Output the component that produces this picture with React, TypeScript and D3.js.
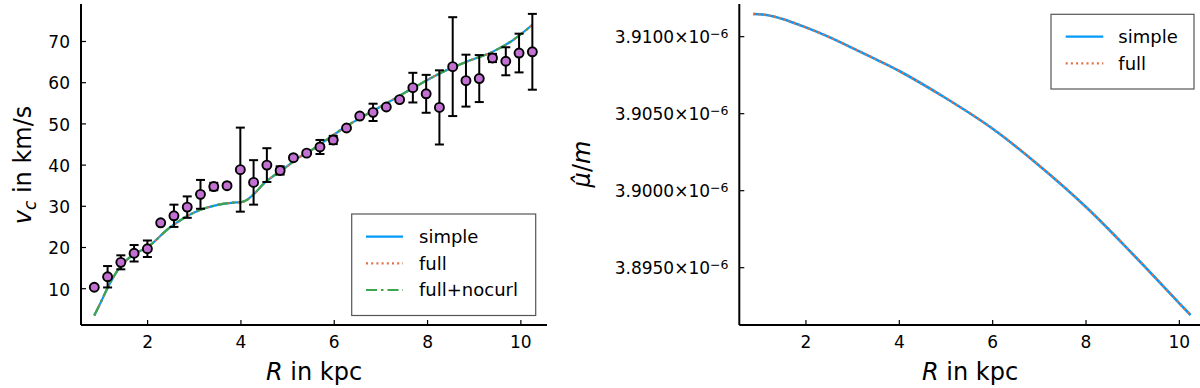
import React from 'react';
import * as d3 from 'd3';

// observed rotation curve
const radii = [0.857, 1.142, 1.426, 1.71, 1.995, 2.28, 2.564, 2.849, 3.133, 3.418, 3.702, 3.987, 4.271, 4.556, 4.84, 5.125, 5.409, 5.694, 5.978, 6.263, 6.547, 6.832, 7.116, 7.401, 7.685, 7.97, 8.254, 8.539, 8.823, 9.108, 9.392, 9.677, 9.961, 10.246];
const vObs = [10.35, 12.9, 16.4, 18.6, 19.7, 26.0, 27.7, 29.8, 32.9, 34.8, 35.0, 38.9, 35.8, 40.0, 38.7, 41.8, 42.9, 44.4, 46.1, 49.0, 51.9, 52.8, 54.1, 55.9, 58.8, 57.3, 54.0, 63.9, 60.5, 61.0, 66.0, 65.2, 67.2, 67.5];
const vErr = [0.3, 2.6, 1.7, 2.0, 2.0, 0.3, 2.7, 2.6, 3.5, 0.9, 0.3, 10.2, 5.4, 4.1, 1.0, 0.3, 0.3, 1.7, 1.0, 0.3, 0.3, 2.1, 0.3, 0.3, 3.6, 4.6, 9.0, 12.0, 6.3, 5.7, 1.0, 3.4, 4.7, 9.2];

// model curve (simple / full / full+nocurl overlap)
const curveR = [0.857, 1.0, 1.12, 1.41, 1.7, 2.0, 2.44, 2.77, 3.12, 3.48, 3.84, 4.01, 4.12, 4.3, 4.48, 4.69, 4.98, 5.19, 5.41, 6.27, 7.12, 7.69, 8.27, 8.84, 9.41, 9.84, 10.24];
const curveV = [3.5, 6.8, 9.7, 15.3, 18.3, 20.1, 24.5, 27.1, 29.1, 30.3, 30.9, 31.0, 31.5, 33.2, 35.4, 37.3, 39.6, 41.5, 42.9, 49.5, 55.0, 58.7, 62.3, 65.1, 67.6, 70.4, 74.0];

// mu-hat / m
const muR = [0.87, 1.15, 1.5, 2.0, 2.5, 3.0, 3.5, 4.0, 5.0, 6.0, 7.0, 8.0, 9.0, 10.0, 10.24];
const muVal = [3.91147e-6, 3.91141e-6, 3.91115e-6, 3.9106e-6, 3.90997e-6, 3.90926e-6, 3.90853e-6, 3.90777e-6, 3.906e-6, 3.90402e-6, 3.90162e-6, 3.89894e-6, 3.89589e-6, 3.89269e-6, 3.89193e-6];

const xTicks = [2, 4, 6, 8, 10];
const vTicks = [10, 20, 30, 40, 50, 60, 70];
const muTicks = [3.895e-6, 3.9e-6, 3.905e-6, 3.91e-6];
const muTickLabels = ['3.8950', '3.9000', '3.9050', '3.9100'];

const BLUE = '#009AFA';
const ORANGE = '#E36F47';
const GREEN = '#3EA44E';
const PURPLE = '#C271D2';
const FONT = 'DejaVu Sans, sans-serif';
const INK = '#000';

const top = 4;
const bottom = 325;

const styles = {
  simple: { stroke: BLUE, dash: undefined },
  full: { stroke: ORANGE, dash: '2,3.2' },
  nocurl: { stroke: GREEN, dash: '11,4,2.5,4' },
};

function Legend({ x, y, w, h, items, lineX0, lineX1, textX, rowY }) {
  return (
    <g>
      <rect x={x} y={y} width={w} height={h} fill="#fff" stroke="#555" strokeWidth={1.2} />
      {items.map((it, i) => (
        <g key={it.label}>
          <line x1={lineX0} x2={lineX1} y1={rowY[i]} y2={rowY[i]} stroke={it.stroke} strokeWidth={2.2} strokeDasharray={it.dash} />
          <text x={textX} y={rowY[i]} dy="0.36em" fontSize={18} fontFamily={FONT} fill={INK}>{it.label}</text>
        </g>
      ))}
    </g>
  );
}

function LeftPanel() {
  const x = d3.scaleLinear().domain([0.572, 10.56]).range([81, 547]);
  const y = d3.scaleLinear().domain([1.19, 79.1]).range([bottom, top]);
  const line = d3.line<number>().x((d, i) => x(curveR[i])).y((d) => y(d)).curve(d3.curveMonotoneX);
  const path = line(curveV);

  return (
    <g>
      <path d={path} fill="none" stroke={BLUE} strokeWidth={2.2} />
      <path d={path} fill="none" stroke={ORANGE} strokeWidth={2.2} strokeDasharray={styles.full.dash} />
      <path d={path} fill="none" stroke={GREEN} strokeWidth={2.2} strokeDasharray={styles.nocurl.dash} />

      {radii.map((r, i) => {
        const cx = x(r);
        const y0 = y(vObs[i] - vErr[i]);
        const y1 = y(vObs[i] + vErr[i]);
        return (
          <g key={'e' + i} stroke="#000" strokeWidth={2}>
            <line x1={cx} x2={cx} y1={y0} y2={y1} />
            <line x1={cx - 4.5} x2={cx + 4.5} y1={y0} y2={y0} />
            <line x1={cx - 4.5} x2={cx + 4.5} y1={y1} y2={y1} />
          </g>
        );
      })}
      {radii.map((r, i) => (
        <circle key={'m' + i} cx={x(r)} cy={y(vObs[i])} r={4.5} fill={PURPLE} stroke="#000" strokeWidth={1.9} />
      ))}

      {/* axes */}
      <line x1={81} x2={547} y1={bottom} y2={bottom} stroke="#000" strokeWidth={2} />
      <line x1={81} x2={81} y1={top} y2={bottom} stroke="#000" strokeWidth={2} />
      {xTicks.map((t) => (
        <g key={t}>
          <line x1={x(t)} x2={x(t)} y1={bottom} y2={bottom - 5} stroke="#000" strokeWidth={1.2} />
          <text x={x(t)} y={bottom + 23} textAnchor="middle" fontSize={17} fontFamily={FONT} fill={INK}>{t}</text>
        </g>
      ))}
      {vTicks.map((t) => (
        <g key={t}>
          <line x1={81} x2={86} y1={y(t)} y2={y(t)} stroke="#000" strokeWidth={1.2} />
          <text x={70} y={y(t)} dy="0.4em" textAnchor="end" fontSize={17} fontFamily={FONT} fill={INK}>{t}</text>
        </g>
      ))}
      <text x={314} y={380} textAnchor="middle" fontSize={24} fontFamily={FONT} fill={INK}>
        <tspan fontStyle="italic">R</tspan> in kpc
      </text>
      <text transform="translate(31,165) rotate(-90)" textAnchor="middle" fontSize={24} fontFamily={FONT} fill={INK}>
        <tspan fontStyle="italic">v</tspan>
        <tspan fontStyle="italic" fontSize={17} dy={5}>c</tspan>
        <tspan dy={-5}> in km/s</tspan>
      </text>

      <Legend
        x={351.7} y={214} w={184} h={101.5}
        items={[
          { label: 'simple', ...styles.simple },
          { label: 'full', ...styles.full },
          { label: 'full+nocurl', ...styles.nocurl },
        ]}
        lineX0={366} lineX1={403} textX={419} rowY={[236.7, 263.3, 290]}
      />
    </g>
  );
}

function RightPanel() {
  const x = d3.scaleLinear().domain([0.572, 10.56]).range([739.3, 1205.5]);
  const y = d3.scaleLinear().domain([3.89128e-6, 3.91212e-6]).range([bottom, top]);
  const line = d3.line<number>().x((d, i) => x(muR[i])).y((d) => y(d)).curve(d3.curveCatmullRom);
  const path = line(muVal);

  return (
    <g>
      <path d={path} fill="none" stroke={BLUE} strokeWidth={2.6} />
      <path d={path} fill="none" stroke={ORANGE} strokeWidth={2.4} strokeDasharray={styles.full.dash} />

      <line x1={739.3} x2={1206} y1={bottom} y2={bottom} stroke="#000" strokeWidth={2} />
      <line x1={739.3} x2={739.3} y1={top} y2={bottom} stroke="#000" strokeWidth={2} />
      {xTicks.map((t) => (
        <g key={t}>
          <line x1={x(t)} x2={x(t)} y1={bottom} y2={bottom - 5} stroke="#000" strokeWidth={1.2} />
          <text x={x(t)} y={bottom + 23} textAnchor="middle" fontSize={17} fontFamily={FONT} fill={INK}>{t}</text>
        </g>
      ))}
      {muTicks.map((t, i) => (
        <g key={t}>
          <line x1={739.3} x2={744.3} y1={y(t)} y2={y(t)} stroke="#000" strokeWidth={1.2} />
          <text x={728.5} y={y(t)} dy="0.36em" textAnchor="end" fontSize={17} fontFamily={FONT} fill={INK}>
            {muTickLabels[i]}×10
            <tspan fontSize={12.5} dy={-5}>−6</tspan>
          </text>
        </g>
      ))}
      <text x={970} y={380} textAnchor="middle" fontSize={24} fontFamily={FONT} fill={INK}>
        <tspan fontStyle="italic">R</tspan> in kpc
      </text>
      <text transform="translate(590,164) rotate(-90)" textAnchor="middle" fontSize={24} fontFamily={FONT} fill={INK}>
        <tspan fontStyle="italic">μ̂</tspan>/<tspan fontStyle="italic">m</tspan>
      </text>

      <Legend
        x={1051} y={14.3} w={143} h={74.7}
        items={[
          { label: 'simple', ...styles.simple },
          { label: 'full', ...styles.full },
        ]}
        lineX0={1065.7} lineX1={1103.3} textX={1118.3} rowY={[36.7, 63.3]}
      />
    </g>
  );
}

export default function App() {
  return (
    <svg width={1200} height={388} style={{ position: 'absolute', left: 0, top: 0, background: '#fff' }}>
      <rect width={1200} height={388} fill="#fff" />
      <LeftPanel />
      <RightPanel />
    </svg>
  );
}
